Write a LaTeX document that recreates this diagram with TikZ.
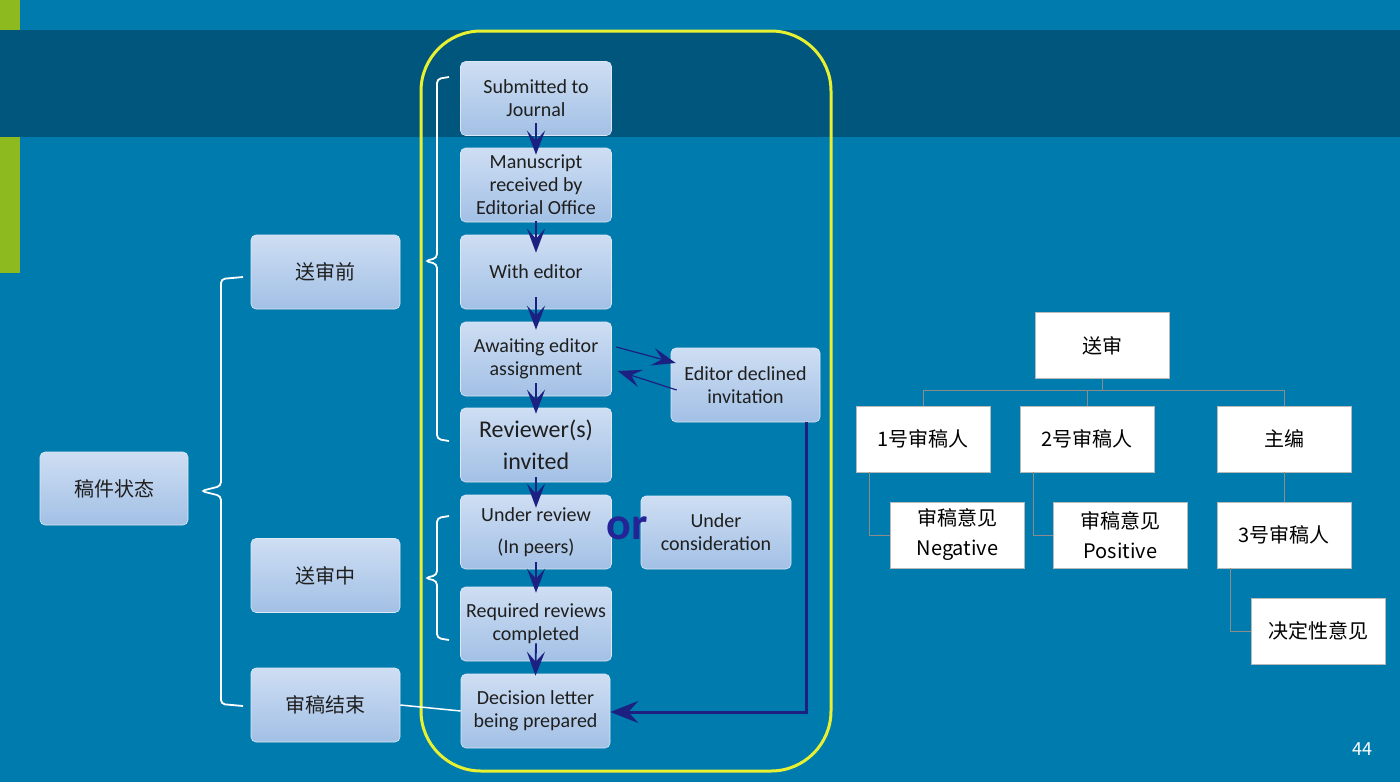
\documentclass[tikz,border=0pt]{standalone}
\usepackage{fontspec}
\setmainfont{Carlito}
\newfontfamily\cjk{Noto Sans CJK SC}
\usetikzlibrary{arrows.meta}
\definecolor{bg}{RGB}{0,123,174}
\definecolor{band}{RGB}{0,86,124}
\definecolor{lgreen}{RGB}{141,187,31}
\definecolor{yel}{RGB}{232,240,50}
\definecolor{navy}{RGB}{28,32,128}
\definecolor{ornavy}{RGB}{36,36,150}
\definecolor{btop}{RGB}{206,222,243}
\definecolor{bbot}{RGB}{162,192,229}
\definecolor{tline}{RGB}{140,140,140}
\tikzset{
  flow/.style={rounded corners=5pt, top color=btop, bottom color=bbot, draw=btop!70!white, line width=0.6pt,
    minimum width=151pt, minimum height=74pt, align=center, text=black!88, inner sep=0pt,
    font=\fontsize{20}{23}\selectfont},
  cat/.style={flow, minimum width=149pt, font=\cjk\fontsize{20}{26}\selectfont},
  tree/.style={fill=white, draw=gray!55, line width=0.6pt, minimum width=134pt, minimum height=66pt,
    align=center, inner sep=0pt, text=black, font=\cjk\fontsize{20}{30}\selectfont},
  tl/.style={tline, line width=1pt},
  arr/.style={navy, line width=1.8pt, -{Stealth[length=24pt,width=18pt,inset=10pt]}},
  brk/.style={white, line width=1.8pt, rounded corners=4pt},
}
\begin{document}
\begin{tikzpicture}[x=1pt,y=-1pt]
\useasboundingbox (0,0) rectangle (1400,782);
\fill[bg] (0,0) rectangle (1400,782);
\fill[band] (0,30) rectangle (1400,137);
\fill[lgreen] (0,0) rectangle (20,30);
\fill[lgreen] (0,137) rectangle (20,273);
\draw[yel, line width=3pt, rounded corners=60pt] (421,31) rectangle (831,771);

% flow boxes
\node[flow] (sub) at (536,98.5) {Submitted to\\Journal};
\node[flow] (man) at (536,185) {Manuscript\\received by\\Editorial Office};
\node[flow] (wed) at (536,272) {With editor};
\node[flow] (awa) at (536,359) {Awaiting editor\\assignment};
\node[flow, font=\fontsize{24}{32}\selectfont] (rev) at (536,445) {Reviewer(s)\\invited};
\node[flow, font=\fontsize{20}{32}\selectfont] (und) at (536,532) {Under review\\(In peers)};
\node[flow] (req) at (536,624) {Required reviews\\completed};
\node[flow, minimum width=149pt] (dec) at (535.5,711) {Decision letter\\being prepared};
\node[flow, minimum width=149pt] (edc) at (745.5,385) {Editor declined\\invitation};
\node[flow, minimum width=150pt, minimum height=73pt] (ucon) at (716,532.5) {Under\\consideration};
\node[text=ornavy, font=\bfseries\fontsize{46}{46}\selectfont, inner sep=0pt] (or) at (627,528) {or};

% left category boxes
\node[cat, minimum width=148pt, minimum height=73pt] (st) at (114,488.5) {稿件状态};
\node[cat] (pre) at (325.5,272) {送审前};
\node[cat] (mid) at (325.5,575.5) {送审中};
\node[cat] (fin) at (325.5,705) {审稿结束};

% brackets
\draw[brk] (243,277) -- (221,279) -- (221,486) -- (201,491) -- (221,496) -- (221,704) -- (243,706);
\draw[brk] (449,77) -- (437,79) -- (437,258) -- (425,261) -- (437,264) -- (437,439) -- (449,441);
\draw[brk] (449,516) -- (437,518) -- (437,575) -- (425,578) -- (437,581) -- (437,638) -- (449,640);
\draw[white, line width=1.5pt] (fin.east) -- (dec.west);

% flow arrows
\draw[arr] ([yshift=12.5pt]sub.south) -- ([yshift=-7pt]man.north);
\draw[arr] ([yshift=1pt]man.south) -- ([yshift=-18pt]wed.north);
\draw[arr] ([yshift=12pt]wed.south) -- ([yshift=-8pt]awa.north);
\draw[arr] ([yshift=13pt]awa.south) -- ([yshift=-6pt]rev.north);
\draw[arr] ([yshift=5pt]rev.south) -- ([yshift=-13pt]und.north);
\draw[arr] ([yshift=7pt]und.south) -- ([yshift=-6pt]req.north);
\draw[arr] ([yshift=18pt]req.south) -- ([yshift=-2pt]dec.north);
\draw[arr, line width=1.2pt] ([xshift=4.5pt,yshift=12pt]awa.east) -- ([xshift=5pt,yshift=22pt]edc.west);
\draw[arr, line width=1.2pt] ([xshift=6pt,yshift=-5pt]edc.west) -- ([xshift=6pt,yshift=-12pt]awa.east);
\draw[navy, line width=3pt, -{Stealth[length=28pt,width=22pt,inset=10pt]}] ([xshift=-14pt]edc.south east) |- ([yshift=-1pt]dec.east);

% tree
\node[tree] (root) at (1102,345.5) {送审};
\node[tree] (r1) at (923,439) {1号审稿人};
\node[tree] (r2) at (1087,439) {2号审稿人};
\node[tree] (ze) at (1284,439) {主编};
\node[tree] (neg) at (957.5,535) {审稿意见\\Negative};
\node[tree] (pos) at (1120.5,535) {审稿意见\\Positive};
\node[tree] (r3) at (1284,535) {3号审稿人};
\node[tree] (jd) at (1318,631) {决定性意见};
\draw[tl] (root.south) -- ++(0,12) -| (r1.north);
\draw[tl] (root.south) -- ++(0,12) -| (r2.north);
\draw[tl] (root.south) -- ++(0,12) -| (ze.north);
\draw[tl] ([xshift=-54pt]r1.south) |- (neg.west);
\draw[tl] ([xshift=-54pt]r2.south) |- (pos.west);
\draw[tl] (ze.south) -- (r3.north);
\draw[tl] ([xshift=-54pt]r3.south) |- (jd.west);

\node[text=white, font=\cjk\fontsize{18}{18}\selectfont] (pg) at (1362,749) {44};
\end{tikzpicture}
\end{document}
